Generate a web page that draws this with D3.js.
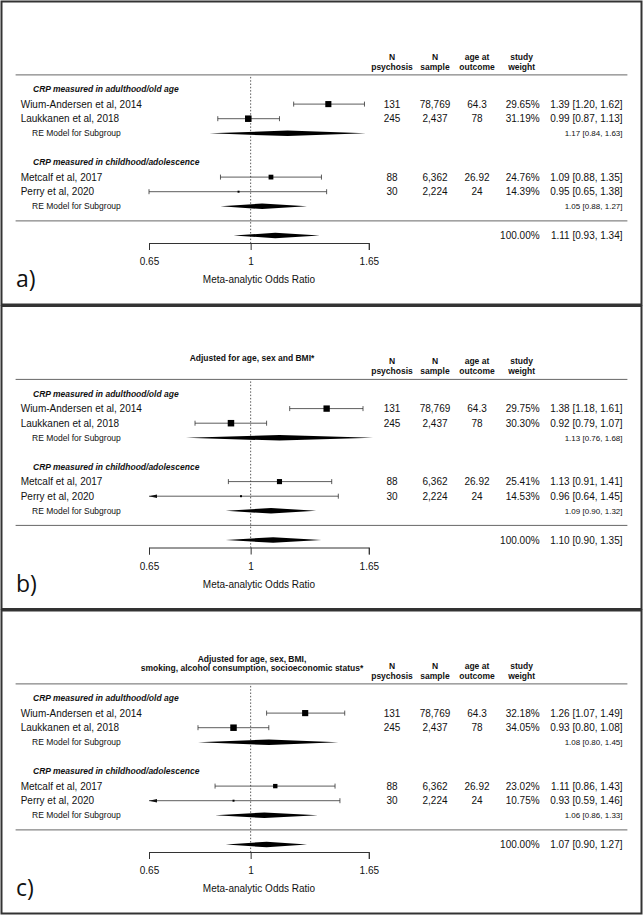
<!DOCTYPE html>
<html>
<head>
<meta charset="utf-8">
<script src="https://cdn.jsdelivr.net/npm/d3@7"></script>
<style>
  body { margin: 0; background: #fff; }
  text { font-family: "Liberation Sans", Arial, sans-serif; fill: #111; }
</style>
</head>
<body>
<div id="canvas"></div>
<script>
// studies and subgroups
var studies = ["Wium-Andersen et al, 2014", "Laukkanen et al, 2018", "Metcalf et al, 2017", "Perry et al, 2020"];
var studyGroup = [0, 0, 1, 1];
var groups = ["CRP measured in adulthood/old age", "CRP measured in childhood/adolescence"];
var nPsychosis = [131, 245, 88, 30];
var nSample = [78769, 2437, 6362, 2224];
var ageOutcome = ["64.3", "78", "26.92", "24"];
var columnHeads = [["N", "psychosis"], ["N", "sample"], ["age at", "outcome"], ["study", "weight"]];

// one row per panel (a, b, c)
var panelLabels = ["a)", "b)", "c)"];
var panelTitles = [[], ["Adjusted for age, sex and BMI*"],
  ["Adjusted for age, sex, BMI,", "smoking, alcohol consumption, socioeconomic status*"]];
var est = [[1.39, 0.99, 1.09, 0.95], [1.38, 0.92, 1.13, 0.96], [1.26, 0.93, 1.11, 0.93]];
var lower = [[1.20, 0.87, 0.88, 0.65], [1.18, 0.79, 0.91, 0.64], [1.07, 0.80, 0.86, 0.59]];
var upper = [[1.62, 1.13, 1.35, 1.38], [1.61, 1.07, 1.41, 1.45], [1.49, 1.08, 1.43, 1.46]];
var weight = [[29.65, 31.19, 24.76, 14.39], [29.75, 30.30, 25.41, 14.53], [32.18, 34.05, 23.02, 10.75]];
var subEst = [[1.17, 1.05], [1.13, 1.09], [1.08, 1.06]];
var subLower = [[0.84, 0.88], [0.76, 0.90], [0.80, 0.86]];
var subUpper = [[1.63, 1.27], [1.68, 1.32], [1.45, 1.33]];
var allEst = [1.11, 1.10, 1.07];
var allLower = [0.93, 0.90, 0.90];
var allUpper = [1.34, 1.35, 1.27];
var allWeight = [100, 100, 100];
var xTicks = [0.65, 1, 1.65];

var width = 643, height = 915;
var panelH = 304.5;

var svg = d3.select("#canvas").append("svg")
  .attr("width", width)
  .attr("height", height);

var x = d3.scaleLog().domain([0.65, 1.65]).range([149, 368.8]);
// row index -> y inside a panel
var y = d3.scaleLinear().domain([0, 10]).range([89.5, 235.5]);

var fmt2 = d3.format(".2f");
var ciText = function (e, l, u) {
  return fmt2(e) + " [" + fmt2(l) + ", " + fmt2(u) + "]";
};

var colX = [392, 435, 477, 521.6];
var pctRight = 539.6, ciRight = 622.5;
var axisY = 243;
var halfH = 2.8;

function diamond(g, e, l, u, yy) {
  g.append("path")
    .attr("d", "M" + x(l) + "," + yy + "L" + x(e) + "," + (yy - halfH) +
      "L" + x(u) + "," + yy + "L" + x(e) + "," + (yy + halfH) + "Z")
    .attr("fill", "#000");
}

panelLabels.forEach(function (lab, p) {
  var g = svg.append("g").attr("transform", "translate(0," + (p * panelH) + ")");

  g.append("rect")
    .attr("x", 1.5).attr("y", 1.5)
    .attr("width", 640).attr("height", 303)
    .attr("fill", "none").attr("stroke", "#333").attr("stroke-width", 2);

  // titles
  var tl = panelTitles[p];
  var ty = tl.length == 2 ? [50, 59.3] : [53.6];
  tl.forEach(function (t, i) {
    g.append("text").attr("x", 252).attr("y", ty[i]).attr("dy", "0.35em")
      .attr("text-anchor", "middle").attr("font-size", "8.5px").attr("font-weight", "bold")
      .text(t);
  });

  // column heads
  columnHeads.forEach(function (h, i) {
    h.forEach(function (t, j) {
      g.append("text").attr("x", colX[i]).attr("y", 57 + j * 10).attr("dy", "0.35em")
        .attr("text-anchor", "middle").attr("font-size", "8.5px").attr("font-weight", "bold")
        .text(t);
    });
  });

  // rules
  g.append("line").attr("x1", 15.6).attr("x2", 627.4).attr("y1", y(-1)).attr("y2", y(-1))
    .attr("stroke", "#666").attr("stroke-width", 1);
  g.append("line").attr("x1", 15.6).attr("x2", 627.4).attr("y1", y(9)).attr("y2", y(9))
    .attr("stroke", "#666").attr("stroke-width", 1);

  // reference line at 1
  g.append("line").attr("x1", x(1)).attr("x2", x(1)).attr("y1", y(-1) + 2).attr("y2", axisY)
    .attr("stroke", "#333").attr("stroke-width", 0.8).attr("stroke-dasharray", "1.5,1.8");

  var size = d3.scaleLinear().domain(d3.extent(weight[p])).range([2, 6.5]);

  groups.forEach(function (grp, k) {
    var base = k * 5;
    g.append("text").attr("x", 33).attr("y", y(base)).attr("dy", "0.35em")
      .attr("font-size", "8.5px").attr("font-weight", "bold").attr("font-style", "italic")
      .text(grp);
    g.append("text").attr("x", 32).attr("y", y(base + 3)).attr("dy", "0.35em")
      .attr("font-size", "8.5px").text("RE Model for Subgroup");
    diamond(g, subEst[p][k], subLower[p][k], subUpper[p][k], y(base + 3));
    g.append("text").attr("x", ciRight).attr("y", y(base + 3)).attr("dy", "0.35em")
      .attr("text-anchor", "end").attr("font-size", "8px")
      .text(ciText(subEst[p][k], subLower[p][k], subUpper[p][k]));
  });

  var rowOf = [];
  var cnt = [0, 0];
  studies.forEach(function (s, i) {
    var k = studyGroup[i];
    cnt[k]++;
    rowOf.push(k * 5 + cnt[k]);
  });

  studies.forEach(function (s, i) {
    var yy = y(rowOf[i]);
    g.append("text").attr("x", 20.7).attr("y", yy).attr("dy", "0.35em")
      .attr("font-size", "10px").text(s);

    var lo = Math.max(lower[p][i], 0.65);
    var hi = upper[p][i];
    g.append("line").attr("x1", x(lo)).attr("x2", x(hi)).attr("y1", yy).attr("y2", yy)
      .attr("stroke", "#333").attr("stroke-width", 0.8);
    if (lower[p][i] < 0.65) {
      g.append("path")
        .attr("d", "M" + x(0.65) + "," + yy + "L" + (x(0.65) + 8) + "," + (yy - 1.8) +
          "L" + (x(0.65) + 8) + "," + (yy + 1.8) + "Z")
        .attr("fill", "#111");
    } else {
      g.append("line").attr("x1", x(lo)).attr("x2", x(lo)).attr("y1", yy - 2.5).attr("y2", yy + 2.5)
        .attr("stroke", "#333").attr("stroke-width", 0.8);
    }
    g.append("line").attr("x1", x(hi)).attr("x2", x(hi)).attr("y1", yy - 2.5).attr("y2", yy + 2.5)
      .attr("stroke", "#333").attr("stroke-width", 0.8);
    var sz = size(weight[p][i]);
    g.append("rect").attr("x", x(est[p][i]) - sz / 2).attr("y", yy - sz / 2)
      .attr("width", sz).attr("height", sz).attr("fill", "#000");

    g.append("text").attr("x", colX[0]).attr("y", yy).attr("dy", "0.35em")
      .attr("text-anchor", "middle").attr("font-size", "10px").text(nPsychosis[i]);
    g.append("text").attr("x", colX[1]).attr("y", yy).attr("dy", "0.35em")
      .attr("text-anchor", "middle").attr("font-size", "10px").text(d3.format(",")(nSample[i]));
    g.append("text").attr("x", colX[2]).attr("y", yy).attr("dy", "0.35em")
      .attr("text-anchor", "middle").attr("font-size", "10px").text(ageOutcome[i]);
    g.append("text").attr("x", pctRight).attr("y", yy).attr("dy", "0.35em")
      .attr("text-anchor", "end").attr("font-size", "10px").text(fmt2(weight[p][i]) + "%");
    g.append("text").attr("x", ciRight).attr("y", yy).attr("dy", "0.35em")
      .attr("text-anchor", "end").attr("font-size", "10px")
      .text(ciText(est[p][i], lower[p][i], upper[p][i]));
  });

  // overall
  diamond(g, allEst[p], allLower[p], allUpper[p], y(10));
  g.append("text").attr("x", pctRight).attr("y", y(10)).attr("dy", "0.35em")
    .attr("text-anchor", "end").attr("font-size", "10px")
    .text(fmt2(allWeight[p]) + "%");
  g.append("text").attr("x", ciRight).attr("y", y(10)).attr("dy", "0.35em")
    .attr("text-anchor", "end").attr("font-size", "10px")
    .text(ciText(allEst[p], allLower[p], allUpper[p]));

  // axis
  var ax = g.append("g").attr("transform", "translate(0," + axisY + ")")
    .call(d3.axisBottom(x).tickValues(xTicks).tickFormat(function (d) { return String(d); })
      .tickSize(7).tickSizeOuter(7).tickPadding(8));
  ax.selectAll("path, line").attr("stroke", "#333");
  ax.selectAll("text").attr("font-size", "10px")
    .attr("font-family", "Liberation Sans, Arial, sans-serif").attr("fill", "#111");

  g.append("text").attr("x", 259).attr("y", 283).attr("text-anchor", "middle")
    .attr("font-size", "10px").text("Meta-analytic Odds Ratio");

  g.append("text").attr("x", 16).attr("y", 287).attr("font-size", "23px")
    .style("font-family", "'Open Sans', sans-serif").text(lab);
});
</script>
</body>
</html>
